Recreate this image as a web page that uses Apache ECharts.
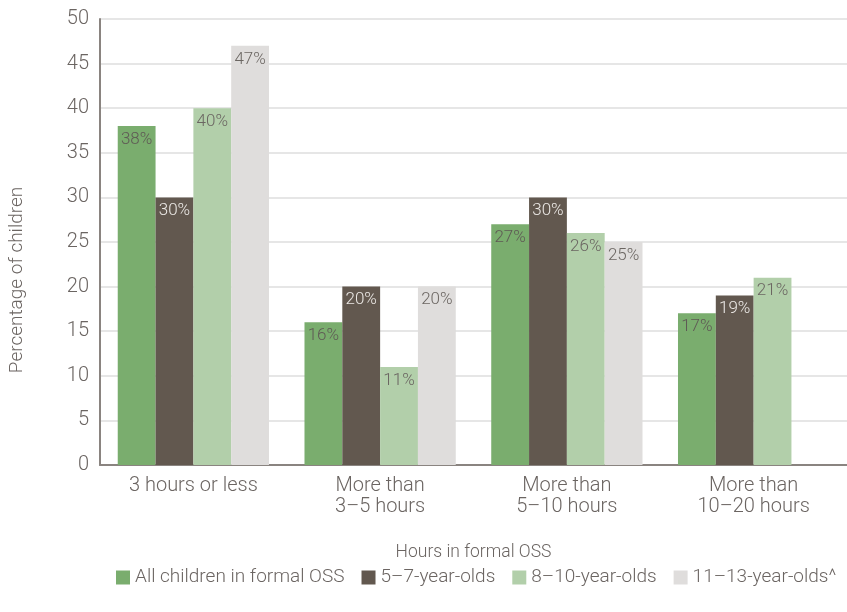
<!DOCTYPE html>
<html>
<head>
<meta charset="utf-8">
<script src="https://cdn.jsdelivr.net/npm/echarts@6/dist/echarts.min.js"></script>
<style>
  html, body { margin: 0; padding: 0; background: #fff; }
  #chart { width: 847px; height: 612px; }
</style>
</head>
<body>
<div id="chart"></div>
<script>
// Hours of formal out-of-school-service care, by age group
const categories = ['3 hours or less', 'More than\n3–5 hours', 'More than\n5–10 hours', 'More than\n10–20 hours'];
const seriesNames = ['All children in formal OSS', '5–7-year-olds', '8–10-year-olds', '11–13-year-olds^'];
const allChildren = [38, 16, 27, 17];
const age5to7 = [30, 20, 30, 19];
const age8to10 = [40, 11, 26, 21];
const age11to13 = [47, 20, 25, null];
const yTicks = [0, 5, 10, 15, 20, 25, 30, 35, 40, 45, 50];

const colors = ['#7aad6e', '#62584f', '#b2cfaa', '#dfdddc'];
const labelColors = ['#5f5a55', '#ece9e6', '#6b6662', '#6b6662'];
const FONT = 'Roboto, sans-serif';
const W = 300;
const TEXT = '#6b6562';

const values = [allChildren, age5to7, age8to10, age11to13];

const chart = echarts.init(document.getElementById('chart'));
chart.setOption({
  animation: false,
  textStyle: { fontFamily: FONT },
  grid: { left: 98, right: 0, top: 19, bottom: 147, containLabel: false },
  legend: {
    orient: 'horizontal',
    bottom: 25,
    left: 116,
    width: 760,
    padding: 0,
    itemWidth: 14,
    itemHeight: 14,
    itemGap: 17,
    icon: 'rect',
    textStyle: { fontFamily: FONT, fontSize: 19, color: TEXT, fontWeight: W },
    data: seriesNames
  },
  xAxis: {
    type: 'category',
    data: categories,
    name: 'Hours in formal OSS',
    nameLocation: 'middle',
    nameGap: 79,
    nameTextStyle: { fontFamily: FONT, fontSize: 17.5, color: TEXT, fontWeight: W },
    axisLine: { lineStyle: { color: '#8a8480', width: 2 } },
    axisTick: { show: false },
    axisLabel: { fontFamily: FONT, fontSize: 20, color: TEXT, lineHeight: 21, margin: 10, fontWeight: W }
  },
  yAxis: {
    type: 'value',
    min: yTicks[0],
    max: yTicks[yTicks.length - 1],
    interval: 5,
    name: 'Percentage of children',
    nameLocation: 'middle',
    nameGap: 73,
    nameTextStyle: { fontFamily: FONT, fontSize: 19, color: TEXT, fontWeight: W, padding: [0, 76, 0, 0] },
    axisLine: { show: true, lineStyle: { color: '#8a8480', width: 2 } },
    axisTick: { show: false },
    axisLabel: { fontFamily: FONT, fontSize: 20, color: TEXT, margin: 11, fontWeight: W },
    splitLine: { lineStyle: { color: '#dedede', width: 1.5 } }
  },
  series: seriesNames.map((name, i) => ({
    name: name,
    type: 'bar',
    data: values[i],
    barGap: '0%',
    barCategoryGap: '19%',
    itemStyle: { color: colors[i] },
    label: {
      show: true,
      position: 'insideTop',
      distance: 5,
      formatter: p => p.value + '%',
      fontFamily: FONT,
      fontSize: 17,
      fontWeight: W,
      color: labelColors[i]
    }
  }))
});
</script>
</body>
</html>
